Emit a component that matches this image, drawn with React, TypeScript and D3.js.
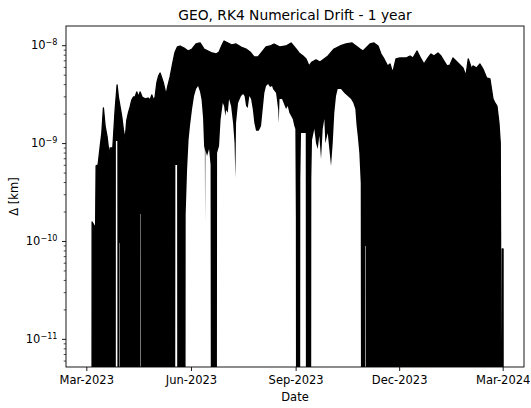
import React from 'react';
import * as d3 from 'd3';

// ---------- data ----------
const START_UTC = Date.UTC(2023, 2, 1); // day 0 = 1 Mar 2023
const ZERO_UM = 1e-5; // numerically ~zero drift (far below axis), in micrometres

// Upper envelope of the oscillating drift: day offset from 1 Mar 2023, value in µm (1e-9 km)
const upperDays = [
  4.48, 4.66, 7.73, 8.17, 9.93, 11.69, 13.18, 14.59, 16.08, 17.84, 19.16, 19.86, 20.47, 22.85,
  23.55, 24.87, 26.62, 27.77, 29.26, 30.75, 32.16, 33.65, 35.15, 36.55, 38.05, 39.54, 40.95,
  42.44, 43.94, 45.34, 46.83, 48.59, 51.23, 53.86, 55.62, 57.12, 58.52, 60.02, 61.51, 63.09,
  64.41, 65.9, 67.31, 69.68, 70.82, 73.2, 75.57, 77.59, 79.61, 81.98, 85.5, 89.01, 92.53,
  96.04, 99.56, 103.07, 106.59, 110.1, 113.62, 116.25, 118.89, 120.65, 124.16, 127.67, 131.19,
  135.58, 139.98, 143.49, 147.01, 150.52, 154.04, 157.55, 161.07, 164.58, 169.85, 175.12,
  179.52, 183.91, 186.55, 190.06, 192.7, 195.33, 197.97, 201.49, 205.0, 208.52, 212.03, 217.3,
  222.58, 227.85, 233.12, 236.63, 240.15, 242.78, 245.42, 248.94, 252.45, 255.97, 258.6,
  261.24, 264.49, 266.51, 268.88, 271.78, 275.3, 280.57, 284.09, 286.72, 290.24, 293.75,
  296.39, 299.9, 302.54, 305.17, 308.69, 311.33, 313.96, 316.6, 319.23, 321.87, 325.38,
  328.02, 330.66, 333.29, 335.31, 338.3, 339.44, 342.69, 345.59, 348.23, 351.48, 354.38,
  357.02, 358.77, 360.53, 362.29, 363.43, 364.05, 364.49, 365.1, 365.19, 365.89, 365.98,
];
const upperMicron = [
  ZERO_UM, 0.158, 0.137, 0.591, 0.605, 0.923, 1.28, 2.31, 1.51, 1.17, 0.861, 0.634, 0.902, 0.902,
  1.22, 2.2, 3.97, 2.99, 2.37, 1.87, 1.38, 1.09, 1.74, 2.06, 2.37, 2.79, 2.99,
  2.99, 3.37, 2.99, 3.37, 2.99, 2.86, 2.92, 2.79, 3.14, 2.79, 2.99, 4.16, 4.91,
  5.26, 4.68, 4.16, 3.14, 3.7, 4.79, 6.66, 8.62, 9.7, 9.93, 9.47, 8.83, 9.25,
  10.41, 10.66, 9.25, 8.83, 8.42, 8.23, 8.62, 10.17, 11.17, 10.66, 10.17, 10.41,
  9.7, 9.25, 8.62, 7.67, 7.67, 8.62, 9.7, 9.93, 10.41, 9.7, 9.93,
  10.66, 9.25, 8.42, 7.85, 7.32, 6.21, 6.82, 7.15, 6.82, 7.32, 7.85, 9.25,
  9.93, 10.41, 10.66, 9.93, 9.25, 8.83, 9.47, 10.41, 10.66, 9.93, 8.23,
  7.32, 6.21, 6.5, 5.26, 7.32, 7.49, 7.49, 7.85, 7.49, 8.83, 7.32,
  6.5, 7.49, 8.23, 7.85, 8.42, 7.85, 6.98, 6.21, 6.35, 7.49, 6.82,
  6.35, 5.92, 4.91, 7.32, 5.78, 6.21, 5.92, 6.5, 5.78, 4.68, 4.57,
  2.86, 2.6, 2.42, 1.62, 1.01, 0.00727, ZERO_UM, ZERO_UM, 0.0838, 0.0838, ZERO_UM,
];

// Lower envelope (daily minima of the oscillation)
const lowerDays = [
  4.48, 25.39, 25.57, 26.8, 26.98, 28.47, 28.56, 28.91, 29.0, 46.83, 46.92, 47.27, 47.36,
  77.59, 77.85, 79.35, 79.61,
  86.64, 86.9, 88.13, 89.45, 90.77, 92.53, 94.28, 96.04, 97.8, 99.56, 100.87, 102.19, 103.07,
  103.77, 103.95, 104.21, 105.71, 107.47, 108.78, 109.22,
  114.23, 114.5, 116.25, 117.57, 119.5, 120.65, 121.79, 122.4, 123.9, 125.04, 126.8, 128.55,
  129.87, 130.57, 131.19, 132.95, 135.58, 137.34, 138.66, 139.98, 141.47, 142.88, 144.37,
  145.86, 147.27, 148.76, 151.14, 153.16, 154.65, 156.06, 157.55, 159.31, 161.07, 162.82,
  163.7, 166.34, 168.27, 168.71, 169.41, 171.61, 175.12, 176.62, 178.02, 181.01, 182.42,
  183.3, 183.74, 184.0,
  187.43, 187.69, 188.31, 192.44, 192.7,
  197.09, 197.36, 197.97, 199.99, 201.49, 202.98, 204.39, 205.88, 207.37, 208.78, 209.66,
  211.77, 213.17, 214.67, 216.16, 217.57, 219.06, 220.55, 223.46, 226.36, 229.34, 232.24,
  234.26, 236.02, 237.08, 238.13, 239.54, 240.77, 241.21,
  244.55, 244.63, 245.07, 245.16, 365.98,
];
const lowerMicron = [
  ZERO_UM, ZERO_UM, 1.06, 1.06, ZERO_UM, ZERO_UM, 0.0966, 0.0966, ZERO_UM, ZERO_UM, 0.191, 0.191, ZERO_UM,
  ZERO_UM, 0.605, 0.605, ZERO_UM,
  ZERO_UM, 0.187, 0.537, 1.09, 1.55, 2.26, 3.07, 3.61, 3.88, 3.37, 2.79, 1.83, 0.945,
  0.861, 0.155, 0.861, 0.747, 0.881, 0.605, ZERO_UM,
  ZERO_UM, 0.802, 0.945, 1.74, 2.6, 2.42, 1.91, 2.2, 2.06, 2.86, 2.42, 1.62,
  1.01, 0.445, 1.62, 2.6, 3.07, 3.21, 3.07, 2.42, 2.31, 3.07, 2.86,
  2.26, 1.62, 1.35, 1.35, 1.51, 2.26, 3.29, 3.88, 4.06, 3.79, 3.88,
  3.61, 3.29, 2.2, 1.62, 2.86, 2.86, 2.26, 2.42, 2.06, 1.78, 1.51,
  1.41, 0.17, ZERO_UM,
  ZERO_UM, 0.425, 1.28, 1.28, ZERO_UM,
  ZERO_UM, 0.435, 1.09, 1.41, 1.01, 0.881, 1.2, 0.697, 1.41, 1.78, 1.01,
  1.28, 0.881, 0.591, 1.01, 2.06, 3.07, 3.61, 3.61, 3.29, 3.07, 2.86,
  2.6, 2.26, 1.55, 1.2, 0.802, 0.396, ZERO_UM,
  ZERO_UM, 0.09, 0.09, ZERO_UM, ZERO_UM,
];

const xTickDates = ['2023-03-01', '2023-06-01', '2023-09-01', '2023-12-01', '2024-03-01'];
const yMajorTicks = [1e-11, 1e-10, 1e-9, 1e-8];
const titleText = 'GEO, RK4 Numerical Drift - 1 year';
const xLabelText = 'Date';
const yLabelText = 'Δ [km]';

// ---------- layout ----------
const W = 531;
const H = 408;
const L = 66;
const R = 524;
const T = 26;
const B = 367;
const FONT = 'DejaVu Sans, Verdana, sans-serif';

const dayToDate = (d: number) => new Date(START_UTC + d * 86400000);
const monthFmt = d3.utcFormat('%b-%Y');

export default function App() {
  const x = d3.scaleUtc().domain([dayToDate(-18.3), dayToDate(384.3)]).range([L, R]);
  const y = d3.scaleLog().domain([5.22e-12, 1.589e-8]).range([B, T]);

  const upperPts = upperDays.map((d, i) => ({ date: dayToDate(d), v: upperMicron[i] * 1e-9 }));
  const lowerPts = lowerDays.map((d, i) => ({ date: dayToDate(d), v: lowerMicron[i] * 1e-9 }));

  const line = d3
    .line<{ date: Date; v: number }>()
    .x((p) => x(p.date))
    .y((p) => y(p.v));

  const polyPath = line([...upperPts, ...lowerPts.slice().reverse()]) + 'Z';
  const upperPath = line(upperPts) || '';

  const [yLo, yHi] = y.domain();
  const minorTicks: number[] = [];
  for (let e = -12; e <= -8; e++) {
    for (let m = 2; m <= 9; m++) {
      const v = m * Math.pow(10, e);
      if (v >= yLo && v <= yHi) minorTicks.push(v);
    }
  }

  const xTicks = xTickDates.map((s) => new Date(s + 'T00:00:00Z'));
  const axisColor = '#000';
  const tickFont = 11.5;

  return (
    <svg
      width={W}
      height={H}
      style={{ display: 'block', position: 'absolute', left: 0, top: 0, background: '#fff' }}
      fontFamily={FONT}
    >
      <defs>
        <clipPath id="plotclip">
          <rect x={L} y={T} width={R - L} height={B - T} />
        </clipPath>
      </defs>
      <rect x={0} y={0} width={W} height={H} fill="#fff" />

      <g clipPath="url(#plotclip)">
        <path d={polyPath} fill="#000" stroke="none" />
        <path d={upperPath} fill="none" stroke="#000" strokeWidth={1.3} strokeLinejoin="round" />
      </g>

      {/* frame */}
      <rect x={L} y={T} width={R - L} height={B - T} fill="none" stroke={axisColor} strokeWidth={0.9} />

      {/* y major ticks */}
      {yMajorTicks.map((v) => {
        const yy = y(v);
        const exp = Math.round(Math.log10(v));
        return (
          <g key={'ym' + v}>
            <line x1={L} x2={L - 4} y1={yy} y2={yy} stroke={axisColor} strokeWidth={0.9} />
            <text x={57.5} y={yy + 3.8} textAnchor="end" fontSize={tickFont} fill="#000">
              <tspan>10</tspan>
              <tspan dy={-4.2} fontSize={8.1}>{'\u2212' + Math.abs(exp)}</tspan>
            </text>
          </g>
        );
      })}
      {minorTicks.map((v) => (
        <line key={'yn' + v} x1={L} x2={L - 2.3} y1={y(v)} y2={y(v)} stroke={axisColor} strokeWidth={0.7} />
      ))}

      {/* x ticks */}
      {xTicks.map((d) => {
        const xx = x(d);
        return (
          <g key={'x' + d.getTime()}>
            <line x1={xx} x2={xx} y1={B} y2={B + 4} stroke={axisColor} strokeWidth={0.9} />
            <text x={xx} y={384} textAnchor="middle" fontSize={tickFont} fill="#000">
              {monthFmt(d)}
            </text>
          </g>
        );
      })}

      {/* labels */}
      <text x={(L + R) / 2} y={19.5} textAnchor="middle" fontSize={13.8} fill="#000">
        {titleText}
      </text>
      <text x={(L + R) / 2} y={401} textAnchor="middle" fontSize={tickFont} fill="#000">
        {xLabelText}
      </text>
      <text
        transform={`translate(17.5, ${(T + B) / 2}) rotate(-90)`}
        textAnchor="middle"
        fontSize={tickFont}
        fill="#000"
      >
        {yLabelText}
      </text>
    </svg>
  );
}
